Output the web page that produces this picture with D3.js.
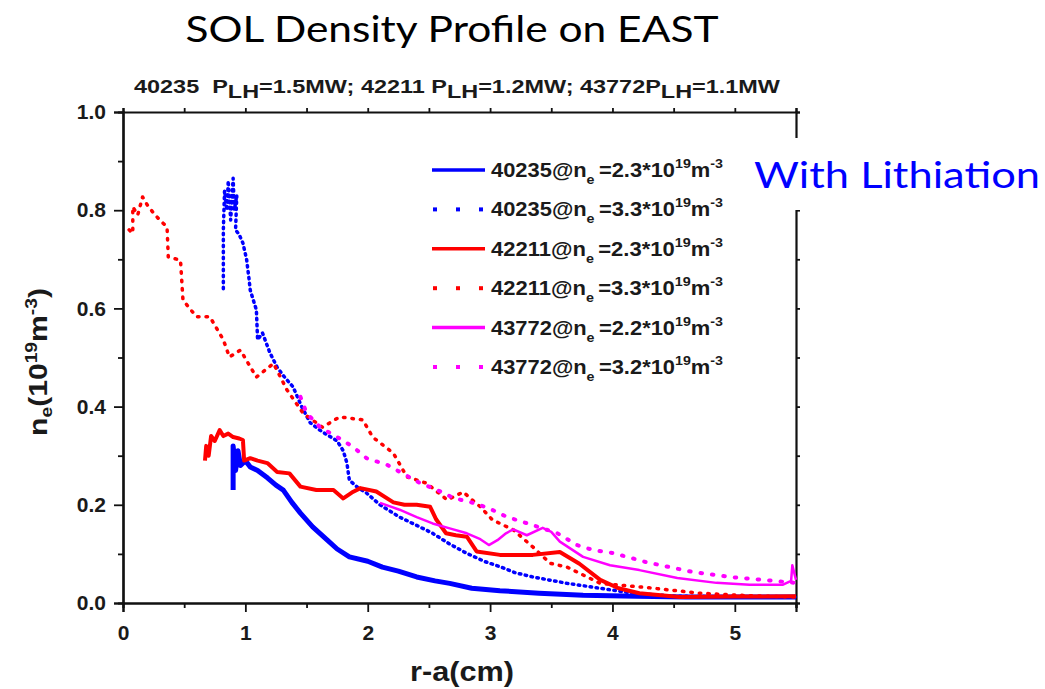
<!DOCTYPE html>
<html>
<head>
<meta charset="utf-8">
<script src="https://cdn.jsdelivr.net/npm/d3@7"></script>
<style>
  body { margin: 0; background: #fff; }
  svg { display: block; }
  .tick text { font-family: "Liberation Sans", Arial, sans-serif; font-weight: bold; font-size: 21px; fill: #1a1a1a; }
</style>
</head>
<body>
<svg id="chart"></svg>
<script>
// ---- DATA: [r-a (cm), ne (1e19 m^-3)] ----
let s40235a = [[0.90,0.23],[0.90,0.32],[0.92,0.27],[0.94,0.31],[0.96,0.28],[1.0,0.29],[1.04,0.277],[1.1,0.27],[1.18,0.255],
  [1.25,0.24],[1.31,0.23],[1.38,0.205],[1.45,0.183],[1.55,0.155],[1.67,0.128],[1.75,0.11],[1.85,0.094],[2.0,0.085],
  [2.12,0.073],[2.25,0.065],[2.4,0.053],[2.55,0.045],[2.67,0.04],[2.85,0.03],[3.08,0.025],[3.4,0.02],[3.76,0.016],
  [4.2,0.014],[4.6,0.012],[5.0,0.012],[5.5,0.012]];
let s40235b = [[0.82,0.64],[0.82,0.70],[0.82,0.76],[0.83,0.84],[0.85,0.80],[0.86,0.86],[0.88,0.78],[0.90,0.865],[0.91,0.80],
  [0.93,0.83],[0.92,0.76],[0.95,0.75],[0.98,0.733],[1.01,0.70],[1.03,0.66],[1.04,0.637],[1.09,0.597],[1.10,0.536],[1.14,0.55],
  [1.2,0.51],[1.26,0.48],[1.32,0.46],[1.39,0.44],[1.46,0.40],[1.53,0.367],[1.62,0.35],[1.75,0.33],[1.80,0.31],[1.83,0.285],
  [1.85,0.25],[1.92,0.235],[1.99,0.224],[2.1,0.2],[2.26,0.175],[2.4,0.158],[2.53,0.142],[2.67,0.12],[2.81,0.101],[2.95,0.085],
  [3.08,0.074],[3.2,0.062],[3.35,0.053],[3.5,0.046],[3.63,0.04],[3.9,0.03],[4.17,0.02],[4.5,0.014],[5.0,0.012],[5.5,0.012]];
let s42211a = [[0.67,0.29],[0.68,0.32],[0.70,0.30],[0.72,0.34],[0.75,0.33],[0.79,0.352],[0.82,0.34],[0.86,0.345],[0.9,0.338],
  [0.95,0.335],[0.98,0.332],[0.99,0.29],[1.04,0.295],[1.1,0.29],[1.18,0.285],[1.26,0.267],[1.36,0.264],[1.45,0.237],[1.58,0.23],
  [1.72,0.23],[1.8,0.213],[1.87,0.225],[1.94,0.234],[2.07,0.227],[2.21,0.205],[2.3,0.2],[2.4,0.2],[2.51,0.196],[2.56,0.17],
  [2.64,0.142],[2.72,0.138],[2.81,0.135],[2.89,0.105],[3.08,0.098],[3.35,0.098],[3.57,0.104],[3.73,0.08],[3.9,0.047],
  [4.05,0.03],[4.22,0.02],[4.55,0.012],[5.0,0.013],[5.5,0.014]];
let s42211b = [[0.05,0.76],[0.08,0.753],[0.08,0.807],[0.12,0.79],[0.16,0.827],[0.2,0.81],[0.25,0.794],[0.3,0.78],[0.36,0.766],
  [0.37,0.705],[0.47,0.698],[0.49,0.617],[0.6,0.583],[0.71,0.583],[0.82,0.536],[0.87,0.501],[0.96,0.515],[1.09,0.46],
  [1.23,0.488],[1.34,0.434],[1.47,0.387],[1.63,0.358],[1.77,0.379],[1.96,0.373],[2.04,0.338],[2.21,0.305],[2.32,0.257],
  [2.48,0.244],[2.65,0.21],[2.78,0.226],[2.92,0.196],[3.02,0.169],[3.19,0.149],[3.35,0.114],[3.49,0.081],[3.63,0.073],
  [3.9,0.04],[4.3,0.031],[4.71,0.02],[5.1,0.015],[5.5,0.012]];
let s43772a = [[2.1,0.204],[2.26,0.19],[2.4,0.175],[2.53,0.162],[2.67,0.152],[2.81,0.142],[2.92,0.13],[2.99,0.118],[3.06,0.128],
  [3.13,0.142],[3.19,0.15],[3.3,0.138],[3.43,0.153],[3.5,0.145],[3.57,0.125],[3.76,0.094],[3.98,0.077],[4.22,0.067],
  [4.53,0.051],[4.85,0.041],[5.12,0.037],[5.39,0.037],[5.46,0.045],[5.47,0.077],[5.5,0.047]];
let s43772b = [[1.45,0.42],[1.5,0.387],[1.61,0.358],[1.75,0.338],[1.88,0.318],[1.99,0.295],[2.16,0.281],[2.43,0.244],
  [2.57,0.23],[2.7,0.214],[2.86,0.204],[2.99,0.193],[3.14,0.175],[3.27,0.165],[3.55,0.142],[3.71,0.118],[3.84,0.108],
  [4.0,0.102],[4.28,0.083],[4.66,0.063],[4.96,0.053],[5.23,0.047],[5.5,0.041]];

let shots = ["40235", "40235", "42211", "42211", "43772", "43772"];
let densities = ["2.3", "3.3", "2.3", "3.3", "2.2", "3.2"];
let xTicks = [0, 1, 2, 3, 4, 5];
let yTicks = [0, 0.2, 0.4, 0.6, 0.8, 1.0];

let series = [
  { data: s40235a, color: "#0000ff", width: 5, dash: null },
  { data: s40235b, color: "#0000ff", width: 3.5, dash: "1.5,4.5" },
  { data: s42211a, color: "#ff0000", width: 4, dash: null },
  { data: s42211b, color: "#ff0000", width: 3.5, dash: "1.5,7" },
  { data: s43772a, color: "#ff00ff", width: 2.5, dash: null },
  { data: s43772b, color: "#ff00ff", width: 4, dash: "1.5,10" }
];

let width = 1045, height = 689;
let svg = d3.select("#chart").attr("width", width).attr("height", height);

let x = d3.scaleLinear().domain([0, 5.5]).range([123, 796]);
let y = d3.scaleLinear().domain([0, 1]).range([603, 112]);

// ---- AXES ----
let axisColor = "#111";
svg.append("g").attr("transform", `translate(0,${y(0)})`)
  .call(d3.axisBottom(x).tickValues(xTicks).tickFormat(d3.format("d")).tickSize(9).tickPadding(13));
svg.append("g").attr("transform", `translate(0,${y(0)})`)
  .call(d3.axisBottom(x).tickValues([0.5, 1.5, 2.5, 3.5, 4.5, 5.5]).tickFormat("").tickSize(5));
svg.append("g").attr("transform", `translate(${x(0)},0)`)
  .call(d3.axisLeft(y).tickValues(yTicks).tickFormat(d3.format(".1f")).tickSize(9).tickPadding(8));
svg.append("g").attr("transform", `translate(${x(0)},0)`)
  .call(d3.axisLeft(y).tickValues([0.1, 0.3, 0.5, 0.7, 0.9]).tickFormat("").tickSize(5));
svg.append("g").attr("transform", `translate(0,${y(1)})`)
  .call(d3.axisTop(x).tickValues(d3.range(0, 5.51, 0.5)).tickFormat("").tickSize(4));
svg.append("g").attr("transform", `translate(${x(5.5)},0)`)
  .call(d3.axisRight(y).tickValues(d3.range(0, 1.01, 0.1)).tickFormat("").tickSize(4));

svg.selectAll(".domain").attr("stroke", axisColor).attr("stroke-width", 2.2);
svg.selectAll(".tick line").attr("stroke", axisColor).attr("stroke-width", 1.8);

// ---- SERIES ----
let line = d3.line().x(d => x(d[0])).y(d => y(d[1]));
let plot = svg.append("g");
series.forEach(s => {
  plot.append("path")
    .attr("d", line(s.data))
    .attr("fill", "none")
    .attr("stroke", s.color)
    .attr("stroke-width", s.width)
    .attr("stroke-linecap", s.dash ? "round" : "butt")
    .attr("stroke-linejoin", "round")
    .attr("stroke-dasharray", s.dash);
});

// ---- LEGEND ----
let font = "Liberation Sans, Arial, sans-serif";
let legend = svg.append("g");
series.forEach((s, i) => {
  let ly = 170 + i * 39.4;
  if (s.dash) {
    [435, 458, 481].forEach(cx => {
      legend.append("rect").attr("x", cx - 2).attr("y", ly - 2).attr("width", 4).attr("height", 4).attr("fill", s.color);
    });
  } else {
    legend.append("line").attr("x1", 432).attr("x2", 485).attr("y1", ly).attr("y2", ly)
      .attr("stroke", s.color).attr("stroke-width", 3.5);
  }
  let t = legend.append("text").attr("x", 491).attr("y", ly + 7)
    .attr("font-family", font).attr("font-weight", "bold")
    .attr("font-size", 20).attr("fill", "#1a1a1a")
    .attr("textLength", 232).attr("lengthAdjust", "spacingAndGlyphs");
  t.append("tspan").text(shots[i] + "@n");
  t.append("tspan").attr("font-size", 13).attr("dy", 7).text("e");
  t.append("tspan").attr("dx", 4).attr("dy", -7).text("=" + densities[i] + "*10");
  t.append("tspan").attr("font-size", 13).attr("dy", -9).text("19");
  t.append("tspan").attr("dy", 9).text("m");
  t.append("tspan").attr("font-size", 13).attr("dy", -9).text("-3");
});

// ---- TEXT ----
svg.append("text").attr("x", 452).attr("y", 42).attr("text-anchor", "middle")
  .attr("font-family", "Lato, 'Open Sans', sans-serif").attr("font-size", 36).attr("fill", "#000")
  .attr("textLength", 533).attr("lengthAdjust", "spacingAndGlyphs")
  .text("SOL Density Profile on EAST");

let sub = svg.append("text").attr("x", 134).attr("y", 93)
  .attr("font-family", font).attr("font-weight", "bold")
  .attr("font-size", 18).attr("fill", "#1a1a1a")
  .attr("textLength", 646).attr("lengthAdjust", "spacingAndGlyphs");
sub.append("tspan").text("40235\u00a0\u00a0P");
sub.append("tspan").attr("dy", 5).text("LH");
sub.append("tspan").attr("dy", -5).text("=1.5MW; 42211 P");
sub.append("tspan").attr("dy", 5).text("LH");
sub.append("tspan").attr("dy", -5).text("=1.2MW; 43772P");
sub.append("tspan").attr("dy", 5).text("LH");
sub.append("tspan").attr("dy", -5).text("=1.1MW");

let yl = svg.append("text").attr("transform", "translate(47,362) rotate(-90)").attr("text-anchor", "middle")
  .attr("font-family", font).attr("font-weight", "bold")
  .attr("font-size", 25).attr("fill", "#1a1a1a")
  .attr("textLength", 148).attr("lengthAdjust", "spacingAndGlyphs");
yl.append("tspan").text("n");
yl.append("tspan").attr("font-size", 16).attr("dy", 5).text("e");
yl.append("tspan").attr("dy", -5).text("(10");
yl.append("tspan").attr("font-size", 16).attr("dy", -10).text("19");
yl.append("tspan").attr("dy", 10).text("m");
yl.append("tspan").attr("font-size", 16).attr("dy", -10).text("-3");
yl.append("tspan").attr("dy", 10).text(")");

svg.append("text").attr("x", 462).attr("y", 681).attr("text-anchor", "middle")
  .attr("font-family", font).attr("font-weight", "bold")
  .attr("font-size", 28).attr("fill", "#1a1a1a")
  .attr("textLength", 104).attr("lengthAdjust", "spacingAndGlyphs")
  .text("r-a(cm)");

// box over the right axis
svg.append("rect").attr("x", 745).attr("y", 138).attr("width", 300).attr("height", 72).attr("fill", "#fff");
svg.append("text").attr("x", 754).attr("y", 188)
  .attr("font-family", "Lato, 'Open Sans', sans-serif").attr("font-size", 36).attr("fill", "#0000ff")
  .attr("textLength", 286).attr("lengthAdjust", "spacingAndGlyphs")
  .text("With Lithiation");
</script>
</body>
</html>
